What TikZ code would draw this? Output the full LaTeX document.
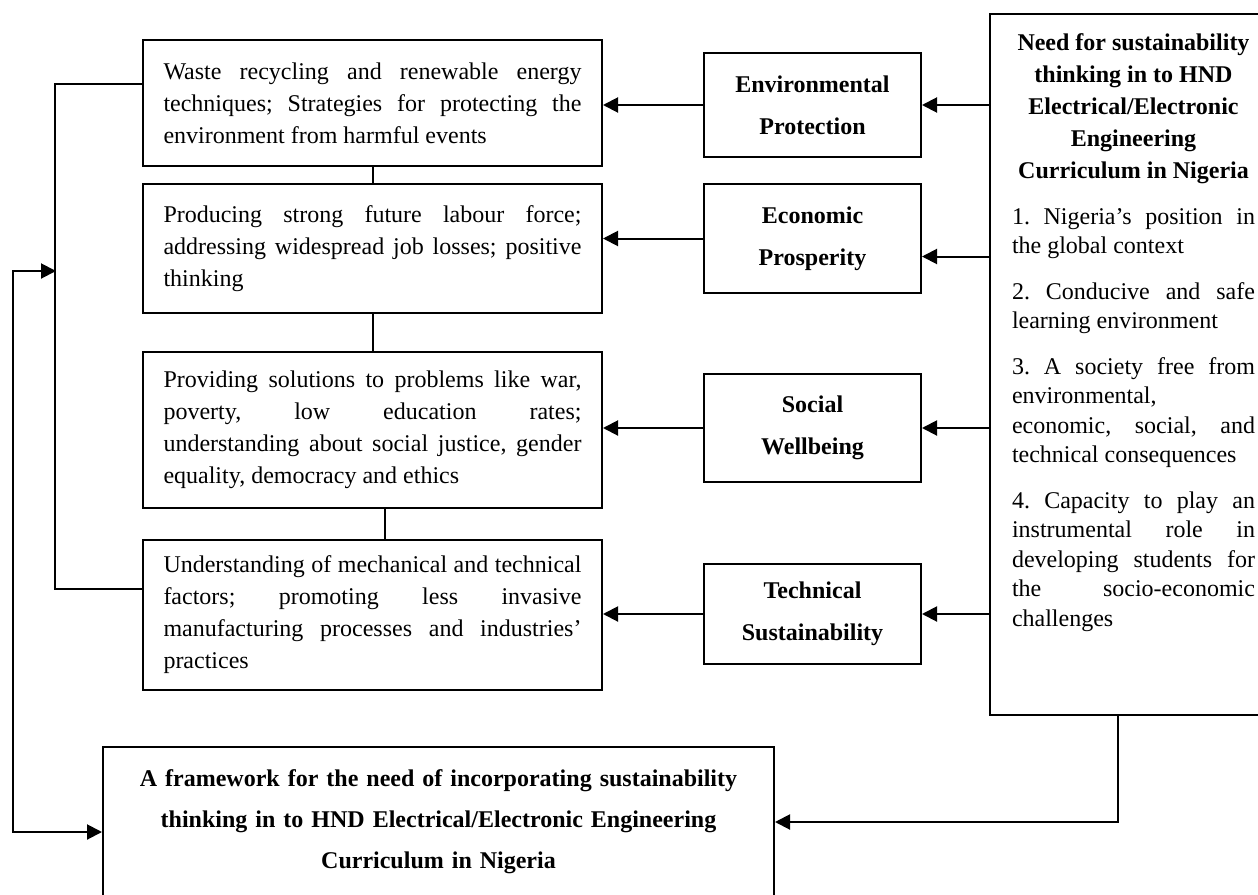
\documentclass[tikz,border=0pt]{standalone}
\usepackage{fontspec}
\setmainfont{Liberation Serif}
\usetikzlibrary{arrows.meta}
\hyphenpenalty=10000
\exhyphenpenalty=10000
\frenchspacing

\begin{document}
\begin{tikzpicture}[x=0.5pt, y=-0.5pt, line width=1pt]
	\tikzstyle{wbox}=[draw, minimum width=229.5pt, text width=209pt, inner sep=0pt, align=justify, font=\fontsize{12}{16}\selectfont]
	\tikzstyle{mbox}=[draw, minimum width=108.5pt, text width=100pt, inner sep=0pt, align=center, font=\bfseries\fontsize{12}{21}\selectfont]
	\tikzstyle{arr}=[-{Triangle[length=7.5pt,width=7.5pt]}]
	\tikzstyle{arrboth}=[{Triangle[length=7.5pt,width=7.5pt]}-{Triangle[length=7.5pt,width=7.5pt]}]
	\useasboundingbox (0,0) rectangle (1258,894);

	\node (w1) at (372.5,103) [wbox, minimum height=63pt]{Waste recycling and renewable energy\linebreak techniques; Strategies for protecting the\linebreak environment from harmful events};
	\node (w2) at (372.5,248.5) [wbox, minimum height=64.5pt]{Producing strong future labour force;\linebreak addressing widespread job losses; positive\linebreak thinking};
	\node (w3) at (372.5,430) [wbox, minimum height=78pt]{Providing solutions to problems like war,\linebreak poverty, low education rates;\linebreak understanding about social justice, gender\linebreak equality, democracy and ethics};
	\node (w4) at (372.5,615) [wbox, minimum height=75pt]{Understanding of mechanical and technical\linebreak factors; promoting less invasive\linebreak manufacturing processes and industries’\linebreak practices};

	\node (m1) at (812.5,105) [mbox, minimum height=52pt]{Environmental\\ Protection};
	\node (m2) at (812.5,238.5) [mbox, minimum height=54.5pt]{Economic\\ Prosperity};
	\node (m3) at (812.5,428) [mbox, minimum height=54pt]{Social\\ Wellbeing};
	\node (m4) at (812.5,614) [mbox, minimum height=50pt]{Technical\\ Sustainability};

	\node (need) at (1133.5,364.5) [draw, minimum width=143.5pt, minimum height=350.5pt, inner sep=0pt]{\parbox[c][330.5pt][t]{121.5pt}{%
		{\centering\bfseries\fontsize{12}{16}\selectfont Need for sustainability\\ thinking in to HND\\ Electrical/Electronic\\ Engineering\\ Curriculum in Nigeria\par}
		\fontsize{12}{14.75}\selectfont\parskip=8pt
		1. Nigeria’s position in\linebreak the global context\par
		2. Conducive and safe\linebreak learning environment\par
		3. A society free from\linebreak environmental,\newline economic, social, and\linebreak technical consequences\par
		4. Capacity to play an\linebreak instrumental role in\linebreak developing students for\linebreak the socio-economic\linebreak challenges\par}};

	\node (frame) at (438.5,822) [draw, minimum width=335.5pt, minimum height=75pt, text width=320pt, inner sep=0pt, align=center, font=\bfseries\fontsize{12}{20.5}\selectfont]{A framework for the need of incorporating sustainability\\ thinking in to HND Electrical/Electronic Engineering\\ Curriculum in Nigeria};

	% links between the left boxes
	\draw (w1.south) -- (w2.north);
	\draw (w2.south) -- (w3.north);
	\draw ([xshift=6pt]w3.south) -- ([xshift=6pt]w4.north);

	% arrows from the right box
	\coordinate (m2e) at ([yshift=-9pt]m2.east);
	\draw[arr] (need.west |- m1.east) -- (m1.east);
	\draw[arr] (need.west |- m2e) -- (m2e);
	\draw[arr] (need.west |- m3.east) -- (m3.east);
	\draw[arr] (need.west |- m4.east) -- (m4.east);

	\draw[arr] (m1.west) -- (w1.east |- m1.west);
	\draw[arr] (m2.west) -- (w2.east |- m2.west);
	\draw[arr] (m3.west) -- (w3.east |- m3.west);
	\draw[arr] (m4.west) -- (w4.east |- m4.west);

	% bracket and loop
	\coordinate (b1) at ([yshift=9.5pt]w1.west);
	\coordinate (b4) at ([yshift=13pt]w4.west);
	\coordinate (bk) at (56,271);
	\coordinate (fw) at ([yshift=-5pt]frame.west);
	\coordinate (ns) at ([xshift=-7.75pt]need.south);
	\draw (b1) -- ++(-87,0) |- (b4);
	\draw[arrboth] (bk) -- ++(-43,0) |- (fw);
	\draw[arr] (ns) |- (frame.east);
\end{tikzpicture}
\end{document}
